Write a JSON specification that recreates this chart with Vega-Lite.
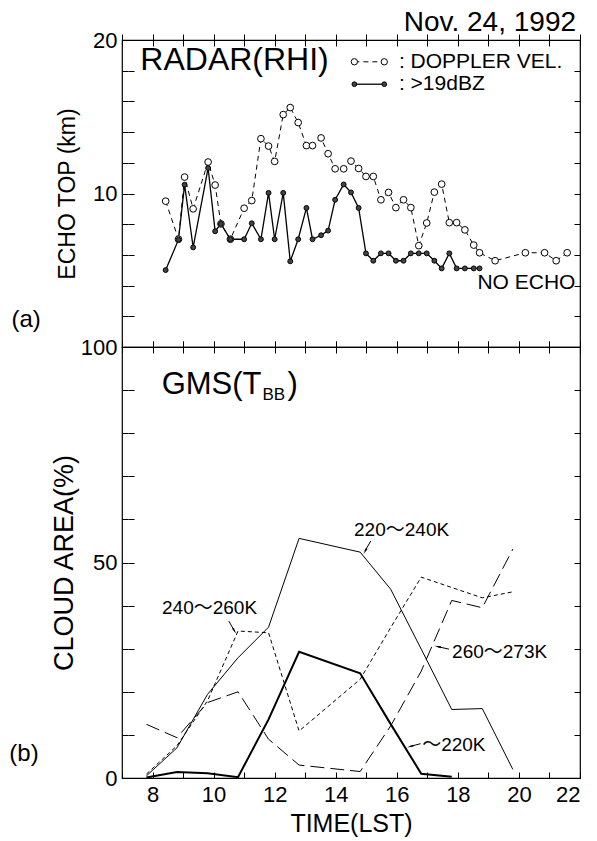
{
  "$schema": "https://vega.github.io/schema/vega-lite/v6.json",
  "background": "white",
  "padding": {"left": 8, "top": 8, "right": 5, "bottom": 2},
  "bounds": "flush",
  "spacing": 0,
  "config": {
    "font": "Liberation Sans",
    "view": {"stroke": "black", "strokeWidth": 1.2},
    "axis": {
      "domain": false, "ticks": true, "zindex": 1, "tickColor": "black", "tickSize": 6, "offset": -6, "tickWidth": 1, "tickOpacity": 1,
      "grid": true, "gridColor": "black", "gridOpacity": 1, "gridWidth": 1, "gridDash": [6, 3000],
      "labelColor": "black", "titleColor": "black", "labelFont": "Liberation Sans", "titleFont": "Liberation Sans",
      "titleFontWeight": "normal", "labelFontSize": 22, "titleFontSize": 23, "labelPadding": 5
    }
  },
  "datasets": {
    "radar": [
      {"t": 8.43, "v": 9.5, "s": "doppler"}, {"t": 8.85, "v": 7.02, "s": "doppler"}, {"t": 9.05, "v": 11.07, "s": "doppler"},
      {"t": 9.33, "v": 9.0, "s": "doppler"}, {"t": 9.82, "v": 12.05, "s": "doppler"}, {"t": 10.05, "v": 10.55, "s": "doppler"},
      {"t": 10.24, "v": 8.02, "s": "doppler"}, {"t": 10.55, "v": 7.02, "s": "doppler"}, {"t": 11.0, "v": 9.04, "s": "doppler"},
      {"t": 11.25, "v": 9.54, "s": "doppler"}, {"t": 11.55, "v": 13.57, "s": "doppler"}, {"t": 11.8, "v": 13.09, "s": "doppler"},
      {"t": 12.0, "v": 12.09, "s": "doppler"}, {"t": 12.28, "v": 15.14, "s": "doppler"}, {"t": 12.51, "v": 15.6, "s": "doppler"},
      {"t": 12.77, "v": 14.62, "s": "doppler"}, {"t": 13.04, "v": 13.12, "s": "doppler"}, {"t": 13.24, "v": 13.12, "s": "doppler"},
      {"t": 13.52, "v": 13.62, "s": "doppler"}, {"t": 13.75, "v": 12.59, "s": "doppler"}, {"t": 13.98, "v": 11.61, "s": "doppler"},
      {"t": 14.26, "v": 11.61, "s": "doppler"}, {"t": 14.5, "v": 12.11, "s": "doppler"}, {"t": 14.75, "v": 11.63, "s": "doppler"},
      {"t": 14.99, "v": 11.11, "s": "doppler"}, {"t": 15.23, "v": 11.11, "s": "doppler"}, {"t": 15.48, "v": 9.59, "s": "doppler"},
      {"t": 15.73, "v": 10.07, "s": "doppler"}, {"t": 15.97, "v": 9.08, "s": "doppler"}, {"t": 16.22, "v": 9.59, "s": "doppler"},
      {"t": 16.46, "v": 9.08, "s": "doppler"}, {"t": 16.72, "v": 6.6, "s": "doppler"}, {"t": 16.98, "v": 8.08, "s": "doppler"},
      {"t": 17.23, "v": 10.09, "s": "doppler"}, {"t": 17.47, "v": 10.61, "s": "doppler"}, {"t": 17.72, "v": 8.1, "s": "doppler"},
      {"t": 17.96, "v": 8.1, "s": "doppler"}, {"t": 18.23, "v": 7.63, "s": "doppler"}, {"t": 18.52, "v": 6.64, "s": "doppler"},
      {"t": 18.71, "v": 6.14, "s": "doppler"}, {"t": 19.22, "v": 5.62, "s": "doppler"}, {"t": 20.21, "v": 6.14, "s": "doppler"},
      {"t": 20.84, "v": 6.14, "s": "doppler"}, {"t": 21.22, "v": 5.62, "s": "doppler"}, {"t": 21.58, "v": 6.14, "s": "doppler"},
      {"t": 8.43, "v": 5.01, "s": "dbz"}, {"t": 8.85, "v": 6.99, "s": "dbz"}, {"t": 9.05, "v": 10.57, "s": "dbz"},
      {"t": 9.33, "v": 6.49, "s": "dbz"}, {"t": 9.82, "v": 11.66, "s": "dbz"}, {"t": 10.05, "v": 7.54, "s": "dbz"},
      {"t": 10.24, "v": 8.02, "s": "dbz"}, {"t": 10.55, "v": 7.02, "s": "dbz"}, {"t": 11.0, "v": 7.02, "s": "dbz"},
      {"t": 11.25, "v": 8.06, "s": "dbz"}, {"t": 11.55, "v": 7.02, "s": "dbz"}, {"t": 11.8, "v": 10.04, "s": "dbz"},
      {"t": 12.0, "v": 7.02, "s": "dbz"}, {"t": 12.28, "v": 10.04, "s": "dbz"}, {"t": 12.51, "v": 5.58, "s": "dbz"},
      {"t": 12.77, "v": 7.02, "s": "dbz"}, {"t": 13.04, "v": 9.06, "s": "dbz"}, {"t": 13.24, "v": 7.02, "s": "dbz"},
      {"t": 13.52, "v": 7.28, "s": "dbz"}, {"t": 13.75, "v": 7.58, "s": "dbz"}, {"t": 13.98, "v": 9.59, "s": "dbz"},
      {"t": 14.26, "v": 10.59, "s": "dbz"}, {"t": 14.5, "v": 10.07, "s": "dbz"}, {"t": 14.75, "v": 9.06, "s": "dbz"},
      {"t": 14.99, "v": 6.1, "s": "dbz"}, {"t": 15.23, "v": 5.62, "s": "dbz"}, {"t": 15.48, "v": 6.1, "s": "dbz"},
      {"t": 15.73, "v": 6.1, "s": "dbz"}, {"t": 15.97, "v": 5.62, "s": "dbz"}, {"t": 16.22, "v": 5.62, "s": "dbz"},
      {"t": 16.46, "v": 6.1, "s": "dbz"}, {"t": 16.72, "v": 6.1, "s": "dbz"}, {"t": 16.98, "v": 6.1, "s": "dbz"},
      {"t": 17.23, "v": 5.62, "s": "dbz"}, {"t": 17.47, "v": 5.12, "s": "dbz"}, {"t": 17.72, "v": 6.1, "s": "dbz"},
      {"t": 17.96, "v": 5.12, "s": "dbz"}, {"t": 18.23, "v": 5.12, "s": "dbz"}, {"t": 18.52, "v": 5.12, "s": "dbz"},
      {"t": 18.71, "v": 5.12, "s": "dbz"}
    ],
    "legend": [
      {"t": 14.61, "v": 18.58, "s": "doppler"}, {"t": 15.59, "v": 18.58, "s": "doppler"},
      {"t": 14.61, "v": 17.12, "s": "dbz"}, {"t": 15.59, "v": 17.12, "s": "dbz"}
    ],
    "gms": [
      {"t": 7.8, "pct": 0.5, "band": "220-240K"}, {"t": 8.8, "pct": 7.0, "band": "220-240K"}, {"t": 9.8, "pct": 19.4, "band": "220-240K"},
      {"t": 10.8, "pct": 27.9, "band": "220-240K"}, {"t": 11.8, "pct": 35.0, "band": "220-240K"}, {"t": 12.8, "pct": 55.6, "band": "220-240K"},
      {"t": 14.8, "pct": 52.4, "band": "220-240K"}, {"t": 15.8, "pct": 43.8, "band": "220-240K"}, {"t": 16.8, "pct": 29.9, "band": "220-240K"},
      {"t": 17.8, "pct": 15.9, "band": "220-240K"}, {"t": 18.8, "pct": 16.1, "band": "220-240K"}, {"t": 19.8, "pct": 2.0, "band": "220-240K"},
      {"t": 7.8, "pct": 0.9, "band": "240-260K"}, {"t": 8.8, "pct": 7.5, "band": "240-260K"}, {"t": 9.8, "pct": 17.9, "band": "240-260K"},
      {"t": 10.8, "pct": 34.1, "band": "240-260K"}, {"t": 11.8, "pct": 33.7, "band": "240-260K"}, {"t": 12.8, "pct": 10.9, "band": "240-260K"},
      {"t": 14.8, "pct": 22.9, "band": "240-260K"}, {"t": 15.8, "pct": 34.9, "band": "240-260K"}, {"t": 16.8, "pct": 46.6, "band": "240-260K"},
      {"t": 17.8, "pct": 44.2, "band": "240-260K"}, {"t": 18.8, "pct": 41.8, "band": "240-260K"}, {"t": 19.8, "pct": 43.2, "band": "240-260K"},
      {"t": 7.8, "pct": 12.45, "band": "260-273K"}, {"t": 8.8, "pct": 9.36, "band": "260-273K"}, {"t": 9.8, "pct": 17.5, "band": "260-273K"},
      {"t": 10.8, "pct": 20.0, "band": "260-273K"}, {"t": 11.8, "pct": 9.0, "band": "260-273K"}, {"t": 12.8, "pct": 3.0, "band": "260-273K"},
      {"t": 14.8, "pct": 1.5, "band": "260-273K"}, {"t": 15.8, "pct": 12.1, "band": "260-273K"}, {"t": 16.8, "pct": 24.8, "band": "260-273K"},
      {"t": 17.8, "pct": 41.2, "band": "260-273K"}, {"t": 18.8, "pct": 39.5, "band": "260-273K"}, {"t": 19.8, "pct": 53.1, "band": "260-273K"},
      {"t": 7.8, "pct": 0.1, "band": "~220K"}, {"t": 8.8, "pct": 1.4, "band": "~220K"}, {"t": 9.8, "pct": 1.1, "band": "~220K"},
      {"t": 10.8, "pct": 0.2, "band": "~220K"}, {"t": 11.8, "pct": 13.6, "band": "~220K"}, {"t": 12.8, "pct": 29.3, "band": "~220K"},
      {"t": 14.8, "pct": 24.3, "band": "~220K"}, {"t": 15.8, "pct": 12.5, "band": "~220K"}, {"t": 16.8, "pct": 1.0, "band": "~220K"},
      {"t": 17.8, "pct": 0.3, "band": "~220K"}
    ],
    "arrows": [
      {"band": "220-240K", "t1": 15.15, "v1": 55.0, "t2": 14.95, "v2": 52.6},
      {"band": "240-260K", "t1": 10.5, "v1": 36.4, "t2": 10.69, "v2": 34.0},
      {"band": "260-273K", "t1": 17.71, "v1": 29.9, "t2": 17.32, "v2": 30.5},
      {"band": "~220K", "t1": 16.78, "v1": 7.96, "t2": 16.42, "v2": 7.3}
    ],
    "one": [{}]
  },
  "vconcat": [
    {
      "width": 458,
      "height": 307,
      "resolve": {"axis": {"x": "independent", "y": "independent"}},
      "layer": [
        {
          "data": {"name": "radar"},
          "transform": [{"filter": "datum.s == 'doppler'"}],
          "mark": {"type": "line", "color": "black", "strokeWidth": 1, "strokeDash": [5, 4]},
          "encoding": {
            "x": {"field": "t", "type": "quantitative", "scale": {"domain": [7, 22], "nice": false, "zero": false},
                  "axis": {"orient": "bottom", "labels": false, "title": null, "values": [7,8,9,10,11,12,13,14,15,16,17,18,19,20,21,22]}},
            "y": {"field": "v", "type": "quantitative", "scale": {"domain": [0, 20], "nice": false, "zero": false},
                  "axis": {"orient": "left", "title": "ECHO TOP (km)", "titlePadding": 13, "values": [0,2,4,6,8,10,12,14,16,18,20],
                           "labelExpr": "datum.value == 10 || datum.value == 20 ? datum.label : ''"}}
          }
        },
        {
          "data": {"name": "radar"},
          "transform": [{"filter": "datum.s == 'dbz'"}],
          "mark": {"type": "line", "color": "black", "strokeWidth": 1.3},
          "encoding": {
            "x": {"field": "t", "type": "quantitative", "axis": {"orient": "top", "labels": false, "title": null, "values": [7,8,9,10,11,12,13,14,15,16,17,18,19,20,21,22]}},
            "y": {"field": "v", "type": "quantitative", "axis": {"orient": "right", "labels": false, "title": null, "values": [0,2,4,6,8,10,12,14,16,18,20]}}
          }
        },
        {
          "data": {"name": "radar"},
          "transform": [{"filter": "datum.s == 'doppler'"}],
          "mark": {"type": "point", "shape": "circle", "filled": true, "fill": "white", "stroke": "black", "strokeWidth": 1, "size": 45, "opacity": 1},
          "encoding": {
            "x": {"field": "t", "type": "quantitative", "axis": null},
            "y": {"field": "v", "type": "quantitative", "axis": null}
          }
        },
        {
          "data": {"name": "radar"},
          "transform": [{"filter": "datum.s == 'dbz'"}],
          "mark": {"type": "point", "shape": "circle", "filled": true, "fill": "#444", "stroke": "black", "strokeWidth": 1, "size": 24, "opacity": 1},
          "encoding": {
            "x": {"field": "t", "type": "quantitative", "axis": null},
            "y": {"field": "v", "type": "quantitative", "axis": null}
          }
        },
        {
          "data": {"name": "legend"},
          "transform": [{"filter": "datum.s == 'doppler'"}],
          "mark": {"type": "line", "color": "black", "strokeWidth": 1, "strokeDash": [5, 4]},
          "encoding": {"x": {"field": "t", "type": "quantitative", "axis": null}, "y": {"field": "v", "type": "quantitative", "axis": null}}
        },
        {
          "data": {"name": "legend"},
          "transform": [{"filter": "datum.s == 'dbz'"}],
          "mark": {"type": "line", "color": "black", "strokeWidth": 1.3},
          "encoding": {"x": {"field": "t", "type": "quantitative", "axis": null}, "y": {"field": "v", "type": "quantitative", "axis": null}}
        },
        {
          "data": {"name": "legend"},
          "transform": [{"filter": "datum.s == 'doppler'"}],
          "mark": {"type": "point", "shape": "circle", "filled": true, "fill": "white", "stroke": "black", "strokeWidth": 1, "size": 40, "opacity": 1},
          "encoding": {"x": {"field": "t", "type": "quantitative", "axis": null}, "y": {"field": "v", "type": "quantitative", "axis": null}}
        },
        {
          "data": {"name": "legend"},
          "transform": [{"filter": "datum.s == 'dbz'"}],
          "mark": {"type": "point", "shape": "circle", "filled": true, "fill": "#444", "stroke": "black", "strokeWidth": 1, "size": 22, "opacity": 1},
          "encoding": {"x": {"field": "t", "type": "quantitative", "axis": null}, "y": {"field": "v", "type": "quantitative", "axis": null}}
        },
        {
          "data": {"name": "one"},
          "mark": {"type": "text", "align": "right", "baseline": "alphabetic", "fontSize": 28, "color": "black"},
          "encoding": {"x": {"datum": 21.87, "type": "quantitative", "axis": null}, "y": {"datum": 20.59, "type": "quantitative", "axis": null}, "text": {"value": "Nov. 24, 1992"}}
        },
        {
          "data": {"name": "one"},
          "mark": {"type": "text", "align": "left", "baseline": "middle", "fontSize": 21, "color": "black"},
          "encoding": {"x": {"datum": 16.07, "type": "quantitative", "axis": null}, "y": {"datum": 18.58, "type": "quantitative", "axis": null}, "text": {"value": ": DOPPLER VEL."}}
        },
        {
          "data": {"name": "one"},
          "mark": {"type": "text", "align": "left", "baseline": "middle", "fontSize": 21, "color": "black"},
          "encoding": {"x": {"datum": 16.07, "type": "quantitative", "axis": null}, "y": {"datum": 17.12, "type": "quantitative", "axis": null}, "text": {"value": ": >19dBZ"}}
        },
        {
          "data": {"name": "one"},
          "mark": {"type": "text", "align": "left", "baseline": "alphabetic", "fontSize": 32, "color": "black"},
          "encoding": {"x": {"datum": 7.6, "type": "quantitative", "axis": null}, "y": {"datum": 18.05, "type": "quantitative", "axis": null}, "text": {"value": "RADAR(RHI)"}}
        },
        {
          "data": {"name": "one"},
          "mark": {"type": "text", "align": "right", "baseline": "alphabetic", "fontSize": 21, "color": "black"},
          "encoding": {"x": {"datum": 21.85, "type": "quantitative", "axis": null}, "y": {"datum": 3.78, "type": "quantitative", "axis": null}, "text": {"value": "NO ECHO"}}
        },
        {
          "data": {"name": "one"},
          "mark": {"type": "text", "align": "center", "baseline": "middle", "fontSize": 24, "color": "black"},
          "encoding": {"x": {"datum": 3.86, "type": "quantitative", "axis": null}, "y": {"datum": 1.76, "type": "quantitative", "axis": null}, "text": {"value": "(a)"}}
        }
      ]
    },
    {
      "width": 458,
      "height": 431,
      "resolve": {"axis": {"x": "independent", "y": "independent"}},
      "layer": [
        {
          "data": {"name": "gms"},
          "transform": [{"filter": "datum.band == '220-240K'"}],
          "mark": {"type": "line", "color": "black", "strokeWidth": 1},
          "encoding": {
            "x": {"field": "t", "type": "quantitative", "scale": {"domain": [7, 22], "nice": false, "zero": false},
                  "axis": {"orient": "bottom", "title": "TIME(LST)", "titleFontSize": 25, "titlePadding": 6, "labelFontSize": 22, "labelPadding": 6,
                           "values": [7,8,9,10,11,12,13,14,15,16,17,18,19,20,21,22], "labelExpr": "datum.value % 2 == 0 ? datum.label : ''"}},
            "y": {"field": "pct", "type": "quantitative", "scale": {"domain": [0, 100], "nice": false, "zero": false},
                  "axis": {"orient": "left", "title": "CLOUD AREA(%)", "titleFontSize": 27, "titlePadding": 2, "values": [0,10,20,30,40,50,60,70,80,90,100],
                           "labelExpr": "datum.value % 50 == 0 ? datum.label : ''"}}
          }
        },
        {
          "data": {"name": "gms"},
          "transform": [{"filter": "datum.band == '240-260K'"}],
          "mark": {"type": "line", "color": "black", "strokeWidth": 1, "strokeDash": [4, 3]},
          "encoding": {
            "x": {"field": "t", "type": "quantitative", "axis": {"orient": "top", "labels": false, "title": null, "values": [7,8,9,10,11,12,13,14,15,16,17,18,19,20,21,22]}},
            "y": {"field": "pct", "type": "quantitative", "axis": {"orient": "right", "labels": false, "title": null, "values": [0,10,20,30,40,50,60,70,80,90,100]}}
          }
        },
        {
          "data": {"name": "gms"},
          "transform": [{"filter": "datum.band == '260-273K'"}],
          "mark": {"type": "line", "color": "black", "strokeWidth": 1, "strokeDash": [14, 6]},
          "encoding": {"x": {"field": "t", "type": "quantitative", "axis": null}, "y": {"field": "pct", "type": "quantitative", "axis": null}}
        },
        {
          "data": {"name": "gms"},
          "transform": [{"filter": "datum.band == '~220K'"}],
          "mark": {"type": "line", "color": "black", "strokeWidth": 2},
          "encoding": {"x": {"field": "t", "type": "quantitative", "axis": null}, "y": {"field": "pct", "type": "quantitative", "axis": null}}
        },
        {
          "data": {"name": "arrows"},
          "mark": {"type": "rule", "color": "black", "strokeWidth": 1},
          "encoding": {
            "x": {"field": "t1", "type": "quantitative", "axis": null}, "y": {"field": "v1", "type": "quantitative", "axis": null},
            "x2": {"field": "t2"}, "y2": {"field": "v2"}
          }
        },
        {
          "data": {"name": "one"},
          "mark": {"type": "point", "shape": "wedge", "filled": true, "color": "black", "size": 60, "angle": 209, "opacity": 1},
          "encoding": {"x": {"datum": 14.98, "type": "quantitative", "axis": null}, "y": {"datum": 52.8, "type": "quantitative", "axis": null}}
        },
        {
          "data": {"name": "one"},
          "mark": {"type": "point", "shape": "wedge", "filled": true, "color": "black", "size": 60, "angle": 150, "opacity": 1},
          "encoding": {"x": {"datum": 10.67, "type": "quantitative", "axis": null}, "y": {"datum": 34.3, "type": "quantitative", "axis": null}}
        },
        {
          "data": {"name": "one"},
          "mark": {"type": "point", "shape": "wedge", "filled": true, "color": "black", "size": 60, "angle": 283, "opacity": 1},
          "encoding": {"x": {"datum": 17.37, "type": "quantitative", "axis": null}, "y": {"datum": 30.45, "type": "quantitative", "axis": null}}
        },
        {
          "data": {"name": "one"},
          "mark": {"type": "point", "shape": "wedge", "filled": true, "color": "black", "size": 60, "angle": 255, "opacity": 1},
          "encoding": {"x": {"datum": 16.47, "type": "quantitative", "axis": null}, "y": {"datum": 7.37, "type": "quantitative", "axis": null}}
        },
        {
          "data": {"name": "one"},
          "mark": {"type": "text", "align": "left", "baseline": "alphabetic", "fontSize": 19, "color": "black", "font": "Liberation Sans, Noto Sans CJK JP"},
          "encoding": {"x": {"datum": 14.6, "type": "quantitative", "axis": null}, "y": {"datum": 56.1, "type": "quantitative", "axis": null}, "text": {"value": "220～240K"}}
        },
        {
          "data": {"name": "one"},
          "mark": {"type": "text", "align": "left", "baseline": "alphabetic", "fontSize": 19, "color": "black", "font": "Liberation Sans, Noto Sans CJK JP"},
          "encoding": {"x": {"datum": 8.31, "type": "quantitative", "axis": null}, "y": {"datum": 38.05, "type": "quantitative", "axis": null}, "text": {"value": "240～260K"}}
        },
        {
          "data": {"name": "one"},
          "mark": {"type": "text", "align": "left", "baseline": "alphabetic", "fontSize": 19, "color": "black", "font": "Liberation Sans, Noto Sans CJK JP"},
          "encoding": {"x": {"datum": 17.81, "type": "quantitative", "axis": null}, "y": {"datum": 27.8, "type": "quantitative", "axis": null}, "text": {"value": "260～273K"}}
        },
        {
          "data": {"name": "one"},
          "mark": {"type": "text", "align": "left", "baseline": "alphabetic", "fontSize": 19, "color": "black", "font": "Liberation Sans, Noto Sans CJK JP"},
          "encoding": {"x": {"datum": 16.83, "type": "quantitative", "axis": null}, "y": {"datum": 6.26, "type": "quantitative", "axis": null}, "text": {"value": "～220K"}}
        },
        {
          "data": {"name": "one"},
          "mark": {"type": "text", "align": "right", "baseline": "alphabetic", "fontSize": 31, "color": "black"},
          "encoding": {"x": {"datum": 11.57, "type": "quantitative", "axis": null}, "y": {"datum": 89.1, "type": "quantitative", "axis": null}, "text": {"value": "GMS(T"}}
        },
        {
          "data": {"name": "one"},
          "mark": {"type": "text", "align": "left", "baseline": "alphabetic", "fontSize": 17, "color": "black"},
          "encoding": {"x": {"datum": 11.6, "type": "quantitative", "axis": null}, "y": {"datum": 87.7, "type": "quantitative", "axis": null}, "text": {"value": "BB"}}
        },
        {
          "data": {"name": "one"},
          "mark": {"type": "text", "align": "left", "baseline": "alphabetic", "fontSize": 31, "color": "black"},
          "encoding": {"x": {"datum": 12.42, "type": "quantitative", "axis": null}, "y": {"datum": 89.1, "type": "quantitative", "axis": null}, "text": {"value": ")"}}
        },
        {
          "data": {"name": "one"},
          "mark": {"type": "text", "align": "center", "baseline": "middle", "fontSize": 24, "color": "black"},
          "encoding": {"x": {"datum": 3.79, "type": "quantitative", "axis": null}, "y": {"datum": 5.57, "type": "quantitative", "axis": null}, "text": {"value": "(b)"}}
        }
      ]
    }
  ]
}
